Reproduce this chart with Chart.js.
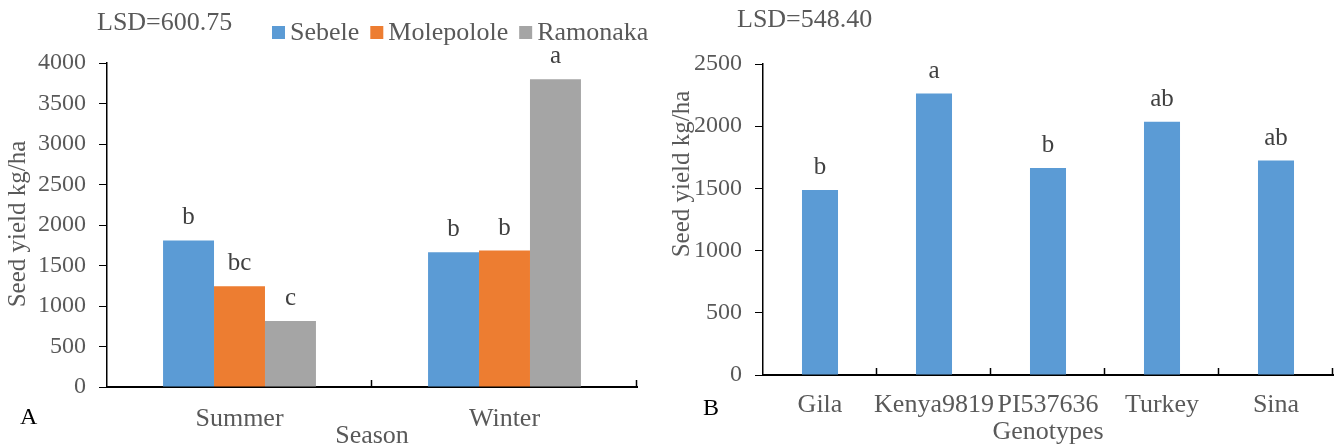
<!DOCTYPE html>
<html lang="en">
<head>
<meta charset="UTF-8">
<title>Seed yield</title>
<script src="https://cdn.jsdelivr.net/npm/chart.js"></script>
<style>
  html, body { margin: 0; padding: 0; background: #fff; }
  .wrap { position: relative; width: 1344px; height: 448px; }
  .panel { position: absolute; top: 0; width: 672px; height: 448px; }
  #panelA { left: 0; }
  #panelB { left: 672px; }
</style>
</head>
<body>
<div class="wrap">
  <div class="panel" id="panelA"><canvas id="chartA"></canvas></div>
  <div class="panel" id="panelB"><canvas id="chartB"></canvas></div>
</div>
<script>
// panel A - season x location
const seasons = ['Summer', 'Winter'];
const sebele = [1810, 1665];
const molepolole = [1245, 1685];
const ramonaka = [815, 3800];
const lettersSebele = ['b', 'b'];
const lettersMolepolole = ['bc', 'b'];
const lettersRamonaka = ['c', 'a'];

// panel B - genotypes
const genotypes = ['Gila', 'Kenya9819', 'PI537636', 'Turkey', 'Sina'];
const genoYield = [1487, 2262, 1663, 2035, 1724];
const genoLetters = ['b', 'a', 'b', 'ab', 'ab'];

const FONT = 'Liberation Serif, Times New Roman, serif';
const GREY = '#595959';

// everything Excel draws by hand: letters, LSD, legend, axis titles, panel tag, inner x ticks
const decorPlugin = {
    id: 'decor',
    afterDraw(chart, args, o) {
        const ctx = chart.ctx;
        const area = chart.chartArea;
        ctx.save();

        // significance letters above each bar
        ctx.font = '25px ' + FONT;
        ctx.fillStyle = '#404040';
        ctx.textAlign = 'center';
        ctx.textBaseline = 'alphabetic';
        chart.data.datasets.forEach((ds, i) => {
            chart.getDatasetMeta(i).data.forEach((bar, j) => {
                ctx.fillText(ds.letters[j], bar.x, bar.y - 16);
            });
        });

        // LSD
        ctx.font = '26px ' + FONT;
        ctx.fillStyle = GREY;
        ctx.textAlign = 'left';
        ctx.textBaseline = 'middle';
        ctx.fillText(o.lsd, o.lsdX, o.lsdY);

        // legend
        if (o.legend) {
            let x = o.legendX;
            chart.data.datasets.forEach(ds => {
                ctx.fillStyle = ds.backgroundColor;
                ctx.fillRect(x, o.legendY - 6, 13, 13);
                x += 18;
                ctx.fillStyle = GREY;
                ctx.fillText(ds.label, x, o.legendY + 1);
                x += ctx.measureText(ds.label).width + 11;
            });
        }

        // axis titles
        ctx.fillStyle = GREY;
        ctx.textAlign = 'center';
        ctx.fillText(o.xTitle, (area.left + area.right) / 2, o.xTitleY);
        ctx.save();
        ctx.font = '25px ' + FONT;
        ctx.translate(o.yTitleX, o.yTitleY);
        ctx.rotate(-Math.PI / 2);
        ctx.fillText('Seed yield kg/ha', 0, 0);
        ctx.restore();

        // panel tag
        ctx.font = '24px ' + FONT;
        ctx.fillStyle = '#000';
        ctx.textAlign = 'left';
        ctx.fillText(o.tag, o.tagX, o.tagY);

        // small upward ticks at category borders
        const xs = chart.scales.x;
        const n = chart.data.labels.length;
        ctx.strokeStyle = '#000';
        ctx.lineWidth = 1.5;
        for (let i = 1; i <= n; i++) {
            const x = Math.round(xs.left + i * (xs.width / n)) - 0.5;
            ctx.beginPath();
            ctx.moveTo(x, area.bottom);
            ctx.lineTo(x, area.bottom - 7);
            ctx.stroke();
        }
        ctx.restore();
    }
};

function yScale(max) {
    return {
        min: 0,
        max: max,
        ticks: { stepSize: 500, color: GREY, font: { family: FONT, size: 24, lineHeight: 1 }, padding: 13, callback: v => v },
        grid: { drawOnChartArea: false, drawTicks: true, tickLength: 8, color: '#000', lineWidth: 1 },
        border: { color: '#000', width: 1.5 },
        afterFit(s) { s.width = 70; }
    };
}

function xScale(h, pad) {
    return {
        grid: { display: false, drawTicks: false },
        border: { color: '#000', width: 2 },
        ticks: { color: GREY, font: { family: FONT, size: 26, lineHeight: 1 }, padding: pad, maxRotation: 0, autoSkip: false },
        afterFit(s) { s.height = h; }
    };
}

new Chart(document.getElementById('chartA'), {
    type: 'bar',
    data: {
        labels: seasons,
        datasets: [
            { label: 'Sebele', data: sebele, letters: lettersSebele, backgroundColor: '#5B9BD5' },
            { label: 'Molepolole', data: molepolole, letters: lettersMolepolole, backgroundColor: '#ED7D31' },
            { label: 'Ramonaka', data: ramonaka, letters: lettersRamonaka, backgroundColor: '#A5A5A5' }
        ]
    },
    options: {
        responsive: true,
        maintainAspectRatio: false,
        animation: false,
        categoryPercentage: 0.577,
        barPercentage: 1,
        layout: { padding: { left: 37, right: 35, top: 63, bottom: 0 } },
        scales: {
            x: xScale(61, 19),
            y: yScale(4000)
        },
        plugins: {
            legend: { display: false },
            tooltip: { enabled: false },
            decor: {
                lsd: 'LSD=600.75', lsdX: 97, lsdY: 23,
                legend: true, legendX: 272, legendY: 32,
                xTitle: 'Season', xTitleY: 436,
                yTitleX: 18, yTitleY: 224,
                tag: 'A', tagX: 20, tagY: 418
            }
        }
    },
    plugins: [decorPlugin]
});

new Chart(document.getElementById('chartB'), {
    type: 'bar',
    data: {
        labels: genotypes,
        datasets: [
            { label: 'Seed yield', data: genoYield, letters: genoLetters, backgroundColor: '#5B9BD5' }
        ]
    },
    options: {
        responsive: true,
        maintainAspectRatio: false,
        animation: false,
        categoryPercentage: 0.316,
        barPercentage: 1,
        layout: { padding: { left: 21, right: 11, top: 64, bottom: 0 } },
        scales: {
            x: xScale(73, 17),
            y: yScale(2500)
        },
        plugins: {
            legend: { display: false },
            tooltip: { enabled: false },
            decor: {
                lsd: 'LSD=548.40', lsdX: 65, lsdY: 20,
                legend: false,
                xTitle: 'Genotypes', xTitleY: 432,
                yTitleX: 10, yTitleY: 174,
                tag: 'B', tagX: 31, tagY: 409
            }
        }
    },
    plugins: [decorPlugin]
});
</script>
</body>
</html>
